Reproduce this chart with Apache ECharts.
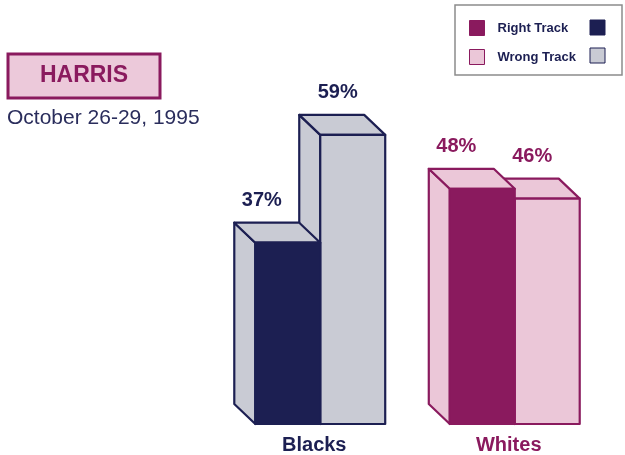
<!DOCTYPE html>
<html><head><meta charset="utf-8">
<script src="https://cdn.jsdelivr.net/npm/echarts@6/dist/echarts.min.js"></script>
<style>html,body{margin:0;padding:0;background:#fff}#c{width:625px;height:455px}</style>
</head><body><div id="c"></div>
<script>
const categories = ['Blacks', 'Whites'];
const seriesNames = ['Right Track', 'Wrong Track'];
const rightTrack = [37, 48];
const wrongTrack = [59, 46];

const dark = ['#1c1f52', '#8a1a5e'];      // per category: outline / right-track front
const light = ['#c9cbd4', '#ebc7d8'];     // per category: wrong-track front, top and side faces
const labelColor = ['#1c1f52', '#8a1a5e'];

const DX = 21, DY = 20;

function makeRender(s) {
  return function (params, api) {
    const cat = api.value(0), val = api.value(1);
    const top = api.coord([cat, val]);
    const base = api.coord([cat, 0]);
    const bandW = api.size([1, 0])[0];
    const barW = bandW * 0.334;
    const x0 = top[0] - barW + s * barW, x1 = x0 + barW;
    const yt = top[1], yb = base[1];
    const stroke = dark[cat];
    const front = s === 0 ? dark[cat] : light[cat];
    const side = light[cat];
    const st = (fill) => ({ fill: fill, stroke: stroke, lineWidth: 2.2, lineJoin: 'round' });
    const lblDx = s === 0 ? -26 : -15;
    return {
      type: 'group',
      children: [
        { type: 'polygon', shape: { points: [[x0, yt], [x0 - DX, yt - DY], [x0 - DX, yb - DY], [x0, yb]] }, style: st(side) },
        { type: 'polygon', shape: { points: [[x0, yt], [x1, yt], [x1 - DX, yt - DY], [x0 - DX, yt - DY]] }, style: st(side) },
        { type: 'rect', shape: { x: x0, y: yt, width: barW, height: yb - yt }, style: st(front) },
        { type: 'text', style: { x: x0 + barW / 2 + lblDx, y: yt - DY - 22, text: val + '%', fill: labelColor[cat],
            font: 'bold 20px "Liberation Sans", Arial, sans-serif', align: 'center', verticalAlign: 'middle' } }
      ]
    };
  };
}

const chart = echarts.init(document.getElementById('c'), null, { renderer: 'canvas' });
chart.setOption({
  animation: false,
  backgroundColor: '#ffffff',
  grid: { left: 223, right: 13, top: 81, bottom: 31 },
  xAxis: {
    type: 'category',
    data: categories.map((c, i) => ({ value: c, textStyle: { color: labelColor[i] } })),
    axisLine: { show: false }, axisTick: { show: false }, splitLine: { show: false },
    axisLabel: { margin: 11, fontSize: 20, fontWeight: 'bold', fontFamily: '"Liberation Sans", Arial, sans-serif', padding: [0, 12, 0, 0] }
  },
  yAxis: { type: 'value', min: 0, max: 70, show: false, splitLine: { show: false } },
  legend: {
    orient: 'vertical', left: 469, top: 20, padding: 0,
    itemWidth: 15, itemHeight: 15, itemGap: 13, icon: 'rect',
    data: [
      { name: seriesNames[0], itemStyle: { color: '#8a1a5e', borderColor: '#8a1a5e', borderWidth: 1 } },
      { name: seriesNames[1], itemStyle: { color: '#ebc7d8', borderColor: '#8a1a5e', borderWidth: 1 } }
    ],
    textStyle: { color: '#1c1f52', fontSize: 13, fontWeight: 'bold', fontFamily: '"Liberation Sans", Arial, sans-serif', padding: [0, 0, 0, 8] },
    selectedMode: false
  },
  graphic: [
    { type: 'rect', shape: { x: 455, y: 5, width: 167, height: 70 }, style: { fill: 'none', stroke: '#8c8c8c', lineWidth: 1.5 }, z: 0 },
    { type: 'rect', shape: { x: 590, y: 20, width: 15, height: 15 }, style: { fill: '#1c1f52', stroke: '#1c1f52', lineWidth: 1 } },
    { type: 'rect', shape: { x: 590, y: 48, width: 15, height: 15 }, style: { fill: '#c9cbd4', stroke: '#1c1f52', lineWidth: 1 } },
    { type: 'rect', shape: { x: 8, y: 54, width: 152, height: 44 }, style: { fill: '#ecc9da', stroke: '#8a1a5e', lineWidth: 3 } },
    { type: 'text', style: { x: 84, y: 76, text: 'HARRIS', fill: '#8a1a5e', font: 'bold 23px "Liberation Sans", Arial, sans-serif', align: 'center', verticalAlign: 'middle' } },
    { type: 'text', style: { x: 7, y: 118, text: 'October 26-29, 1995', fill: '#2a2d5c', font: '21px "Liberation Sans", Arial, sans-serif', align: 'left', verticalAlign: 'middle' } }
  ],
  series: [
    { name: seriesNames[0], type: 'custom', z: 3, itemStyle: { color: '#8a1a5e' },
      renderItem: makeRender(0), data: rightTrack.map((v, i) => [i, v]) },
    { name: seriesNames[1], type: 'custom', z: 2, itemStyle: { color: '#ebc7d8' },
      renderItem: makeRender(1), data: wrongTrack.map((v, i) => [i, v]) }
  ]
});
</script></body></html>
